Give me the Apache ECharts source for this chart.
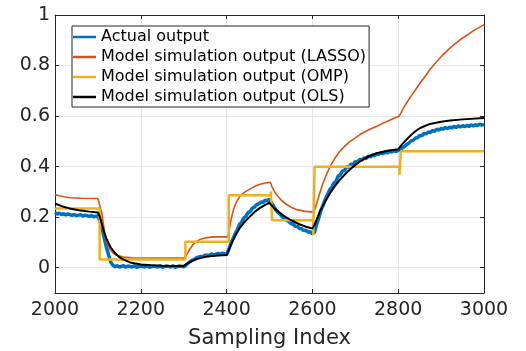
<!DOCTYPE html>
<html>
<head>
<meta charset="utf-8">
<script src="https://cdn.jsdelivr.net/npm/echarts@6/dist/echarts.min.js"></script>
<style>
  html, body { margin: 0; padding: 0; background: #fff; }
  #chart { width: 526px; height: 351px; }
</style>
</head>
<body>
<div id="chart"></div>
<script>
// x tick labels
const xTicks = [2000, 2200, 2400, 2600, 2800, 3000];

// series names
const names = [
  'Actual output',
  'Model simulation output (LASSO)',
  'Model simulation output (OMP)',
  'Model simulation output (OLS)'
];

// actual output (noisy), [sample, value]
const actual = [
  [2000, 0.218], [2005, 0.212], [2010, 0.216], [2015, 0.210], [2020, 0.214], [2025, 0.209], [2030, 0.213],
  [2040, 0.207], [2045, 0.211], [2050, 0.206], [2060, 0.210], [2065, 0.204], [2070, 0.208], [2080, 0.203],
  [2085, 0.207], [2090, 0.202], [2100, 0.205], [2105, 0.185], [2110, 0.155], [2115, 0.115], [2120, 0.080],
  [2125, 0.050], [2130, 0.022], [2135, 0.010], [2140, 0.004], [2145, 0.008], [2150, 0.003], [2160, 0.008],
  [2165, 0.002], [2170, 0.007], [2180, 0.003], [2185, 0.008], [2190, 0.002], [2200, 0.007], [2210, 0.003],
  [2215, 0.008], [2220, 0.002], [2230, 0.007], [2240, 0.003], [2245, 0.008], [2250, 0.002], [2260, 0.007],
  [2270, 0.003], [2275, 0.008], [2280, 0.002], [2290, 0.007], [2300, 0.004], [2305, 0.010], [2310, 0.018],
  [2320, 0.030], [2325, 0.033], [2330, 0.040], [2340, 0.045], [2345, 0.043], [2350, 0.050], [2360, 0.048],
  [2365, 0.055], [2370, 0.050], [2380, 0.057], [2385, 0.052], [2390, 0.058], [2400, 0.052], [2405, 0.072],
  [2410, 0.097], [2415, 0.115], [2420, 0.135], [2425, 0.150], [2430, 0.172], [2435, 0.180], [2440, 0.197],
  [2445, 0.203], [2450, 0.218], [2455, 0.222], [2460, 0.236], [2465, 0.240], [2470, 0.250], [2475, 0.252],
  [2480, 0.260], [2485, 0.258], [2490, 0.267], [2495, 0.265], [2500, 0.272], [2505, 0.255], [2510, 0.242],
  [2515, 0.228], [2520, 0.218], [2525, 0.212], [2530, 0.200], [2535, 0.197], [2540, 0.187], [2545, 0.183],
  [2550, 0.175], [2555, 0.172], [2560, 0.164], [2565, 0.163], [2570, 0.155], [2575, 0.154], [2580, 0.147],
  [2585, 0.148], [2590, 0.141], [2595, 0.142], [2600, 0.135], [2605, 0.140], [2610, 0.172], [2615, 0.198],
  [2620, 0.228], [2625, 0.248], [2630, 0.272], [2635, 0.288], [2640, 0.308], [2645, 0.318], [2650, 0.335],
  [2655, 0.342], [2660, 0.362], [2665, 0.368], [2670, 0.382], [2675, 0.385], [2680, 0.400], [2685, 0.398],
  [2690, 0.410], [2695, 0.408], [2700, 0.420], [2705, 0.418], [2710, 0.428], [2715, 0.426], [2720, 0.434],
  [2725, 0.432], [2730, 0.442], [2735, 0.438], [2740, 0.446], [2745, 0.443], [2750, 0.451], [2755, 0.448],
  [2760, 0.455], [2765, 0.452], [2770, 0.458], [2775, 0.455], [2780, 0.461], [2785, 0.458], [2790, 0.463],
  [2795, 0.460], [2800, 0.464], [2805, 0.466], [2810, 0.474], [2815, 0.480], [2820, 0.488], [2825, 0.493],
  [2830, 0.502], [2835, 0.504], [2840, 0.513], [2845, 0.514], [2850, 0.523], [2855, 0.522], [2860, 0.531],
  [2865, 0.530], [2870, 0.537], [2875, 0.535], [2880, 0.543], [2885, 0.540], [2890, 0.548], [2895, 0.545],
  [2900, 0.551], [2905, 0.548], [2910, 0.555], [2915, 0.551], [2920, 0.556], [2925, 0.553], [2930, 0.559],
  [2935, 0.555], [2940, 0.561], [2945, 0.557], [2950, 0.562], [2955, 0.558], [2960, 0.563], [2965, 0.559],
  [2970, 0.565], [2975, 0.561], [2980, 0.566], [2985, 0.562], [2990, 0.568], [2995, 0.564], [3000, 0.567]
];

// LASSO model simulation
const lasso = [
  [2000, 0.290], [2010, 0.285], [2020, 0.281], [2035, 0.277], [2060, 0.275], [2100, 0.274], [2103, 0.270],
  [2109, 0.217], [2113, 0.170], [2117, 0.125], [2122, 0.095], [2128, 0.072], [2136, 0.057], [2144, 0.049],
  [2160, 0.042], [2180, 0.039], [2300, 0.038], [2305, 0.046], [2315, 0.075], [2322, 0.092], [2330, 0.104],
  [2338, 0.112], [2350, 0.118], [2369, 0.122], [2403, 0.122], [2407, 0.160], [2411, 0.195], [2416, 0.230],
  [2423, 0.260], [2431, 0.283], [2443, 0.300], [2455, 0.312], [2466, 0.322], [2478, 0.330], [2490, 0.335],
  [2502, 0.338], [2506, 0.320], [2511, 0.303], [2517, 0.288], [2528, 0.266], [2540, 0.250], [2552, 0.238],
  [2563, 0.230], [2580, 0.224], [2602, 0.220], [2606, 0.232], [2611, 0.260], [2617, 0.295], [2625, 0.336],
  [2633, 0.370], [2641, 0.400], [2652, 0.432], [2664, 0.461], [2676, 0.482], [2688, 0.500], [2700, 0.514],
  [2711, 0.527], [2730, 0.545], [2750, 0.560], [2775, 0.580], [2802, 0.600], [2806, 0.612], [2815, 0.640],
  [2827, 0.672], [2840, 0.703], [2851, 0.731], [2863, 0.758], [2874, 0.784], [2886, 0.808], [2897, 0.830],
  [2910, 0.852], [2921, 0.870], [2933, 0.887], [2944, 0.902], [2960, 0.920], [2975, 0.937], [3000, 0.962]
];

// OMP model simulation (piecewise constant)
const omp = [
  [2000, 0.234], [2104, 0.234], [2104, 0.033], [2304, 0.033], [2304, 0.103], [2405, 0.103], [2405, 0.287],
  [2503, 0.287], [2503, 0.302], [2506, 0.302], [2506, 0.188], [2602, 0.188], [2602, 0.128], [2605, 0.128],
  [2605, 0.400], [2803, 0.400], [2803, 0.368], [2806, 0.368], [2806, 0.461], [3000, 0.461]
];

// OLS model simulation
const ols = [
  [2000, 0.254], [2020, 0.241], [2040, 0.232], [2060, 0.226], [2080, 0.222], [2100, 0.219], [2105, 0.200],
  [2110, 0.168], [2115, 0.140], [2120, 0.115], [2125, 0.097], [2130, 0.080], [2140, 0.058], [2150, 0.042],
  [2160, 0.032], [2175, 0.021], [2200, 0.013], [2225, 0.010], [2250, 0.008], [2300, 0.007], [2310, 0.018],
  [2320, 0.027], [2330, 0.034], [2345, 0.041], [2360, 0.045], [2380, 0.048], [2400, 0.050], [2405, 0.070],
  [2410, 0.090], [2416, 0.112], [2423, 0.135], [2431, 0.158], [2443, 0.183], [2455, 0.204], [2466, 0.222],
  [2478, 0.237], [2490, 0.249], [2500, 0.257], [2510, 0.237], [2524, 0.217], [2536, 0.202], [2548, 0.190],
  [2560, 0.180], [2571, 0.171], [2585, 0.162], [2600, 0.155], [2605, 0.170], [2610, 0.190], [2618, 0.225],
  [2630, 0.262], [2641, 0.295], [2652, 0.322], [2664, 0.348], [2676, 0.370], [2688, 0.390], [2700, 0.407],
  [2711, 0.421], [2730, 0.440], [2750, 0.453], [2775, 0.463], [2800, 0.469], [2810, 0.490], [2827, 0.520],
  [2840, 0.540], [2851, 0.553], [2874, 0.569], [2900, 0.578], [2921, 0.583], [2950, 0.587], [3000, 0.592]
];

const colors = ['#0072BD', '#D95319', '#EDB120', '#000000'];
const axisColor = '#262626';
const font = 'DejaVu Sans';

const myChart = echarts.init(document.getElementById('chart'), null, { renderer: 'canvas' });

const xBase = {
  type: 'value',
  min: xTicks[0],
  max: xTicks[xTicks.length - 1],
  interval: 200,
  axisLine: { show: true, onZero: false, lineStyle: { color: axisColor, width: 1 } },
  axisTick: { show: true, inside: true, length: 4, lineStyle: { color: axisColor } }
};
const yBase = {
  type: 'value',
  min: -0.1,
  max: 1,
  splitNumber: 5,
  axisLine: { show: true, onZero: false, lineStyle: { color: axisColor, width: 1 } },
  axisTick: { show: true, inside: true, length: 4, lineStyle: { color: axisColor } }
};

const option = {
  animation: false,
  backgroundColor: '#ffffff',
  color: colors,
  grid: {
    left: 55, top: 15, right: 42, bottom: 58,
    containLabel: false,
    outerBoundsMode: 'none'
  },
  legend: {
    orient: 'vertical',
    left: 72,
    top: 26,
    padding: [3, 3, 2, 1],
    itemGap: 4,
    itemWidth: 23,
    itemHeight: 2.5,
    icon: 'rect',
    backgroundColor: '#ffffff',
    borderColor: '#262626',
    borderWidth: 1,
    borderRadius: 0,
    textStyle: { fontFamily: font, fontSize: 16, color: '#000' },
    data: names
  },
  xAxis: [
    Object.assign({}, xBase, {
      position: 'bottom',
      name: 'Sampling Index',
      nameLocation: 'middle',
      nameGap: 35,
      nameTextStyle: { fontFamily: font, fontSize: 21, color: axisColor },
      axisLabel: {
        show: true, margin: 8, fontFamily: font, fontSize: 19, color: axisColor,
        formatter: function (v) { return String(v); }
      },
      splitLine: { show: true, lineStyle: { color: '#e6e6e6', width: 1 } }
    }),
    Object.assign({}, xBase, {
      position: 'top',
      axisLabel: { show: false },
      splitLine: { show: false }
    })
  ],
  yAxis: [
    Object.assign({}, yBase, {
      position: 'left',
      axisLabel: {
        show: true, margin: 5, fontFamily: font, fontSize: 19, color: axisColor,
        showMinLabel: false
      },
      splitLine: { show: true, lineStyle: { color: '#e6e6e6', width: 1 } }
    }),
    Object.assign({}, yBase, {
      position: 'right',
      axisLabel: { show: false },
      splitLine: { show: false }
    })
  ],
  series: [
    {
      name: names[0], type: 'line', data: actual, showSymbol: false,
      lineStyle: { width: 3.5, color: colors[0] }, z: 2
    },
    {
      name: names[1], type: 'line', data: lasso, showSymbol: false,
      lineStyle: { width: 1.6, color: colors[1] }, z: 3
    },
    {
      name: names[2], type: 'line', data: omp, showSymbol: false,
      lineStyle: { width: 2.5, color: colors[2] }, z: 4
    },
    {
      name: names[3], type: 'line', data: ols, showSymbol: false,
      lineStyle: { width: 2, color: colors[3] }, z: 5
    }
  ]
};

myChart.setOption(option);
</script>
</body>
</html>
